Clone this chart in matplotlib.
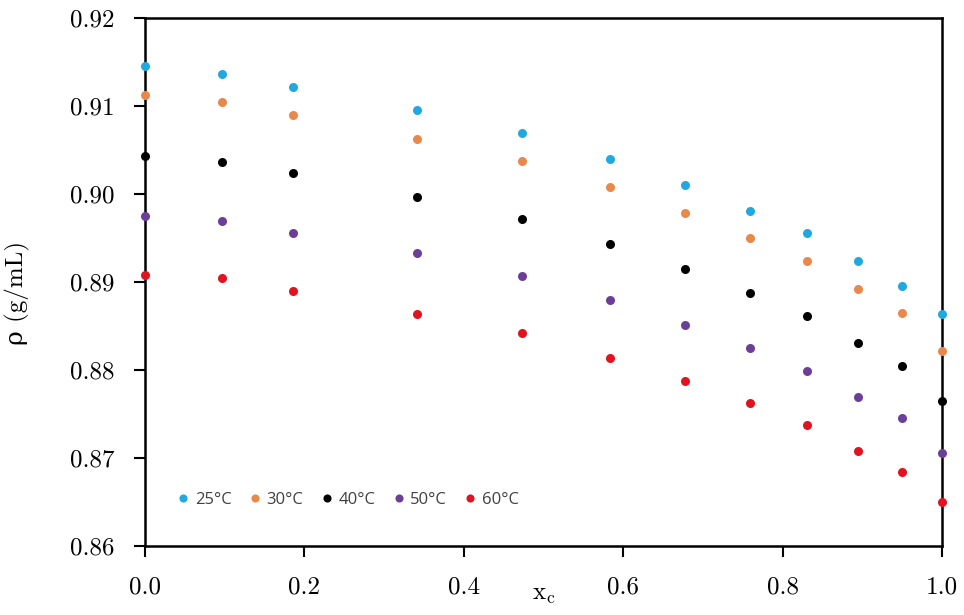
import matplotlib
matplotlib.use("Agg")
import matplotlib.pyplot as plt

x_c = [0.0, 0.097, 0.186, 0.341, 0.473, 0.583, 0.678, 0.759, 0.831, 0.894, 0.950, 1.0]
rho_25 = [0.9145, 0.9136, 0.9122, 0.9095, 0.9069, 0.9040, 0.9010, 0.8981, 0.8956, 0.8924, 0.8896, 0.8864]
rho_30 = [0.9113, 0.9104, 0.9090, 0.9062, 0.9038, 0.9008, 0.8978, 0.8950, 0.8924, 0.8892, 0.8865, 0.8822]
rho_40 = [0.9043, 0.9036, 0.9024, 0.8997, 0.8972, 0.8943, 0.8915, 0.8888, 0.8861, 0.8831, 0.8805, 0.8765]
rho_50 = [0.8975, 0.8969, 0.8956, 0.8933, 0.8907, 0.8880, 0.8851, 0.8825, 0.8799, 0.8769, 0.8745, 0.8706]
rho_60 = [0.8908, 0.8904, 0.8890, 0.8864, 0.8842, 0.8814, 0.8787, 0.8763, 0.8737, 0.8708, 0.8684, 0.8650]
series_labels = ["25°C", "30°C", "40°C", "50°C", "60°C"]
x_ticks = [0.0, 0.2, 0.4, 0.6, 0.8, 1.0]
x_tick_labels = ["0.0", "0.2", "0.4", "0.6", "0.8", "1.0"]
y_ticks = [0.86, 0.87, 0.88, 0.89, 0.90, 0.91, 0.92]
y_tick_labels = ["0.86", "0.87", "0.88", "0.89", "0.90", "0.91", "0.92"]

colors = ["#22A8E0", "#E8894B", "#000000", "#6B3F98", "#E2121F"]

plt.rcParams["mathtext.fontset"] = "cm"

fig = plt.figure(figsize=(9.64, 6.15), dpi=100)
ax = fig.add_axes([145 / 964, 1 - 546 / 615, 797 / 964, 528 / 615])

for ys, lab, c in zip([rho_25, rho_30, rho_40, rho_50, rho_60], series_labels, colors):
    ax.plot(x_c, ys, linestyle="none", marker="o", markersize=6.5, color=c,
            markeredgewidth=0, label=lab, clip_on=False, zorder=5)

ax.set_xlim(0, 1.0)
ax.set_ylim(0.86, 0.92)
ax.set_xticks(x_ticks)
ax.set_xticklabels(x_tick_labels, fontfamily="cmr10", fontsize=18)
ax.set_yticks(y_ticks)
ax.set_yticklabels(y_tick_labels, fontfamily="cmr10", fontsize=18)
ax.tick_params(direction="out", length=8, width=1.5, pad=14, color="black")

for s in ax.spines.values():
    s.set_linewidth(1.8)
    s.set_color("black")

ax.set_ylabel("ρ (g/mL)", fontsize=18, fontfamily=["cmr10", "DejaVu Serif"])
ax.yaxis.set_label_coords(-0.144, 0.48)
ax.set_xlabel(r"$\mathrm{x}_\mathrm{c}$", fontsize=18, labelpad=-12)

leg = ax.legend(loc="lower left", bbox_to_anchor=(0.033, 0.06), ncol=5, frameon=False,
                prop={"family": "Open Sans", "size": 12}, handlelength=0.6,
                handletextpad=0.4, columnspacing=1.1, markerscale=0.9,
                borderaxespad=0)
for t in leg.get_texts():
    t.set_color("#404040")

fig.savefig("out.png", dpi=100)
